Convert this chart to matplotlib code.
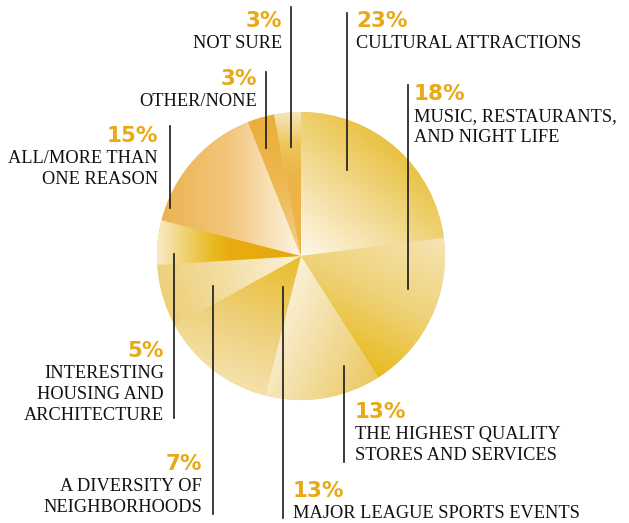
import numpy as np
import matplotlib.pyplot as plt
from matplotlib.colors import LinearSegmentedColormap

# survey answers, clockwise from 12 o'clock
labels = [
    "CULTURAL ATTRACTIONS",
    "MUSIC, RESTAURANTS,\nAND NIGHT LIFE",
    "THE HIGHEST QUALITY\nSTORES AND SERVICES",
    "MAJOR LEAGUE SPORTS EVENTS",
    "A DIVERSITY OF\nNEIGHBORHOODS",
    "INTERESTING\nHOUSING AND\nARCHITECTURE",
    "ALL/MORE THAN\nONE REASON",
    "OTHER/NONE",
    "NOT SURE",
]
shares = [23, 18, 13, 13, 7, 5, 15, 3, 3]

W, H = 629, 523
cx, cy, R = 301, 256, 144   # pie centre / radius in pixels (y from top)

# callout layout: leader x, leader top, leader bottom, text x, align, first baseline
callouts = [
    (347, 13, 170, 356, "left", 27),
    (408, 85, 289, 414, "left", 100),
    (344, 366, 462, 355, "left", 418),
    (283, 287, 518, 293, "left", 497),
    (213, 286, 514, 202, "right", 470),
    (174, 254, 418, 164, "right", 357),
    (170, 126, 208, 158, "right", 142),
    (266, 72, 148, 257, "right", 85),
    (291, 7, 147, 282, "right", 27),
]

# gradient per wedge: start point, end point (pixels), colour stops
shading = [
    ((300, 262), (400, 140), ["#FFFAF0", "#F3DC98", "#E8BF38"]),
    ((440, 245), (375, 372), ["#F5E3AE", "#EFD27A", "#E8BD22"]),
    ((268, 330), (378, 382), ["#FAF0D6", "#F2DC9C", "#EBC860"]),
    ((295, 262), (245, 395), ["#E9BE2E", "#EECF78", "#F5E3B0"]),
    ((160, 300), (292, 262), ["#EECF78", "#F3DEA2", "#FAF0D6"]),
    ((158, 250), (300, 250), [(0, "#F7E9C4"), (0.38, "#E9BA22"), (0.5, "#E8AC10"), (1, "#E8A70E")]),
    ((160, 200), (300, 200), ["#ECB250", "#F2C67C", "#FDF4E2"]),
    ((255, 115), (298, 250), ["#EAAE38", "#EDB850", "#F3CC85"]),
    ((290, 112), (292, 175), ["#F7E6BC", "#EDC65B", "#EDB447"]),
]
base_colors = ["#F3DC98", "#EFD27A", "#F2DC9C", "#EECF78", "#F3DEA2",
               "#E9BA22", "#F2C67C", "#EDB850", "#EDC65B"]

pct_color = "#E9A915"
serif = "Liberation Serif"

fig = plt.figure(figsize=(W / 100, H / 100), dpi=100)
ax = fig.add_axes([0, 0, 1, 1])

wedges, _ = ax.pie(shares, startangle=90, counterclock=False, center=(cx, H - cy),
                   radius=R, colors=base_colors, wedgeprops=dict(linewidth=0))

xs = np.linspace(cx - R, cx + R, 500)
ys = np.linspace(cy - R, cy + R, 500)
gx, gy = np.meshgrid(xs, ys)

for w, (p0, p1, stops) in zip(wedges, shading):
    d = np.subtract(p1, p0).astype(float)
    t = ((gx - p0[0]) * d[0] + (gy - p0[1]) * d[1]) / (d @ d)
    cmap = LinearSegmentedColormap.from_list("g", stops)
    im = ax.imshow(np.clip(t, 0, 1), cmap=cmap, vmin=0, vmax=1, origin="upper",
                   extent=(cx - R, cx + R, H - (cy + R), H - (cy - R)),
                   interpolation="bilinear", zorder=2)
    im.set_clip_path(w)

for lab, val, (lx, y0, y1, tx, ha, base) in zip(labels, shares, callouts):
    ax.plot([lx, lx], [H - y0, H - y1], color="#1a1a1a", lw=1.2, zorder=3)
    ax.text(tx, H - base, f"{val}%", ha=ha, va="baseline", color=pct_color,
            fontsize=15.5, fontweight="bold", family="DejaVu Sans")
    for i, line in enumerate(lab.split("\n")):
        ax.text(tx, H - (base + 21 * (i + 1)), line, ha=ha, va="baseline",
                color="#111111", fontsize=13.2, family=serif)

ax.set_xlim(0, W)
ax.set_ylim(0, H)
ax.set_aspect("equal")
ax.axis("off")
fig.savefig("out.png", dpi=100)
